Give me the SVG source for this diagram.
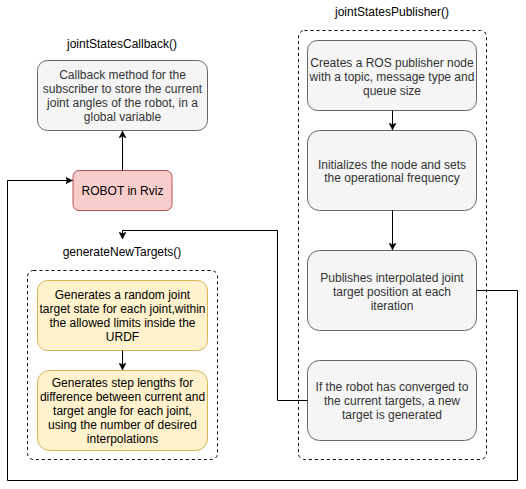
<svg xmlns="http://www.w3.org/2000/svg" width="526" height="489" viewBox="0 0 526 489">
<style>
text{font-family:"Liberation Sans",Arial,sans-serif;font-size:12px;text-anchor:middle}
.g{fill:#f5f5f5;stroke:#666666;stroke-width:1}
.gt{fill:#333333}
.r{fill:#f8cecc;stroke:#b85450;stroke-width:1}
.y{fill:#fff2cc;stroke:#d6b656;stroke-width:1}
.bt{fill:#000000}
.cont{fill:none;stroke:#000000;stroke-width:1;stroke-dasharray:3,3}
.e{fill:none;stroke:#000000;stroke-width:1}
</style>
<defs>
<marker id="ah" markerWidth="8" markerHeight="8" refX="7" refY="4" orient="auto" markerUnits="userSpaceOnUse">
<path d="M0,0.5 L7,4 L0,7.5 L1.8,4 Z" fill="#000000" stroke="#000000" stroke-width="0.5"/>
</marker>
</defs>
<rect width="526" height="489" fill="#ffffff"/>
<g id="titles">
<text x="122" y="47.5">jointStatesCallback()</text>
<text x="392" y="16">jointStatesPublisher()</text>
<text x="122" y="256">generateNewTargets()</text>
</g>
<g id="publisherGroup"><rect class="cont" x="298.5" y="30.5" width="188" height="429" rx="6"/></g>
<g id="generateGroup"><rect class="cont" x="27.5" y="270.5" width="190" height="189" rx="6"/></g>
<g id="callback">
<rect class="g" x="37.5" y="60.5" width="170" height="70" rx="10"/>
<text class="gt" x="122.5" y="79">Callback method for the</text>
<text class="gt" x="122.5" y="93">subscriber to store the current</text>
<text class="gt" x="122.5" y="107">joint angles of the robot, in a</text>
<text class="gt" x="122.5" y="121">global variable</text>
</g>
<g id="robot">
<rect class="r" x="73" y="170.5" width="99" height="40" rx="6"/>
<text class="bt" x="122.5" y="195">ROBOT in Rviz</text>
</g>
<g id="pub1">
<rect class="g" x="307.5" y="40.5" width="169" height="70" rx="10"/>
<text class="gt" x="392" y="66.5">Creates a ROS publisher node</text>
<text class="gt" x="392" y="80.5">with a topic, message type and</text>
<text class="gt" x="392" y="94.5">queue size</text>
</g>
<g id="pub2">
<rect class="g" x="307.5" y="130.5" width="169" height="80" rx="12"/>
<text class="gt" x="392" y="168.5">Initializes the node and sets</text>
<text class="gt" x="392" y="182">the operational frequency</text>
</g>
<g id="pub3">
<rect class="g" x="307.5" y="250.5" width="169" height="80" rx="12"/>
<text class="gt" x="392" y="282">Publishes interpolated joint</text>
<text class="gt" x="392" y="296">target position at each</text>
<text class="gt" x="392" y="310">iteration</text>
</g>
<g id="pub4">
<rect class="g" x="307.5" y="360.5" width="169" height="80" rx="12"/>
<text class="gt" x="392" y="391">If the robot has converged to</text>
<text class="gt" x="392" y="405">the current targets, a new</text>
<text class="gt" x="392" y="419">target is generated</text>
</g>
<g id="gen1">
<rect class="y" x="37.5" y="280.5" width="170" height="70" rx="10"/>
<text class="bt" x="122.5" y="299">Generates a random joint</text>
<text class="bt" x="122.5" y="313">target state for each joint,within</text>
<text class="bt" x="122.5" y="327">the allowed limits inside the</text>
<text class="bt" x="122.5" y="341">URDF</text>
</g>
<g id="gen2">
<rect class="y" x="37.5" y="370.5" width="170" height="80" rx="12"/>
<text class="bt" x="122.5" y="387">Generates step lengths for</text>
<text class="bt" x="122.5" y="401">difference between current and</text>
<text class="bt" x="122.5" y="415">target angle for each joint,</text>
<text class="bt" x="122.5" y="429">using the number of desired</text>
<text class="bt" x="122.5" y="443">interpolations</text>
</g>
<g id="connectors">
<path class="e" d="M122.5,170.5 V131" marker-end="url(#ah)"/>
<path class="e" d="M392.5,110.5 V130" marker-end="url(#ah)"/>
<path class="e" d="M392.5,210.5 V250" marker-end="url(#ah)"/>
<path class="e" d="M122.5,350.5 V370" marker-end="url(#ah)"/>
<path class="e" d="M476.5,290.5 H517.5 V480.5 H7.5 V180.5 H72.5" marker-end="url(#ah)"/>
<path class="e" d="M307.5,400.5 H277.5 V230.5 H122.5 V239" marker-end="url(#ah)"/>
</g>
</svg>
